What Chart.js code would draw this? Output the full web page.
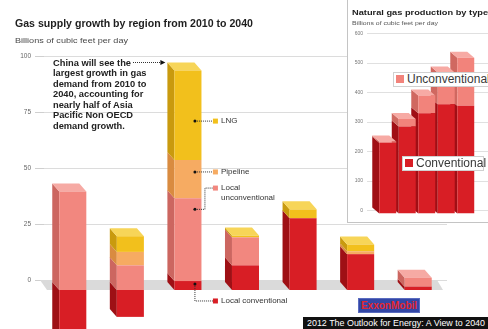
<!DOCTYPE html>
<html><head><meta charset="utf-8">
<script src="https://cdn.jsdelivr.net/npm/chart.js@4.4.1/dist/chart.umd.min.js"></script>
<style>
html,body{margin:0;padding:0;width:488px;height:329px;overflow:hidden;background:#fff;font-family:"Liberation Sans",Arial,sans-serif;}
#wrap{position:relative;width:488px;height:329px;overflow:hidden;}
.t{position:absolute;white-space:nowrap;transform-origin:0 50%;}
#main{position:absolute;left:0;top:0;}
#panel{position:absolute;left:347px;top:-1px;width:160px;height:222px;border:1px solid #c4c4c4;background:#fff;overflow:hidden;}
#inset{position:absolute;left:0;top:1px;}
.box{position:absolute;background:#fff;border:1px solid #d0d0d0;color:#3a3a3a;font-size:12px;line-height:13px;white-space:nowrap;}
.sq{display:inline-block;width:8px;height:8px;margin:0 3px 0 2px;vertical-align:0;}
</style></head>
<body><div id="wrap">
<canvas id="main" width="488" height="329"></canvas>

<div class="t fit" data-w="238" style="left:15px;top:18.2px;font-size:10.6px;line-height:10.6px;font-weight:bold;color:#1e1e1e">Gas supply growth by region from 2010 to 2040</div>
<div class="t fit" data-w="113" style="left:15px;top:37.2px;font-size:7.5px;line-height:7.5px;color:#4a4a4a">Billions of cubic feet per day</div>

<div class="t" style="left:53px;top:57.8px;font-size:9.3px;line-height:10.5px;font-weight:bold;color:#222;white-space:pre">China will see the
largest growth in gas
demand from 2010 to
2040, accounting for
nearly half of Asia
Pacific Non OECD
demand growth.</div>

<div class="t" style="left:221px;top:117px;font-size:8px;line-height:8px;color:#333">LNG</div>
<div class="t" style="left:221px;top:168px;font-size:8px;line-height:8px;color:#333">Pipeline</div>
<div class="t" style="left:221px;top:183px;font-size:8px;line-height:9.5px;color:#333;white-space:pre">Local
unconventional</div>
<div class="t" style="left:221px;top:297px;font-size:8px;line-height:8px;color:#333">Local conventional</div>

<div id="panel"><canvas id="inset" width="152" height="222"></canvas></div>
<div class="t fit" data-w="136" style="left:352px;top:8.5px;font-size:8px;line-height:8px;font-weight:bold;color:#1e1e1e">Natural gas production by type</div>
<div class="t fit" data-w="86" style="left:352px;top:19.5px;font-size:6px;line-height:6px;color:#555">Billions of cubic feet per day</div>

<div class="box" style="left:393px;top:72px;width:110px;height:13px;"><span class="sq" style="background:#f2837b"></span>Unconventional</div>
<div class="box" style="left:402px;top:156px;width:80px;height:13px;"><span class="sq" style="background:#d81e25"></span>Conventional</div>

<div class="t" style="left:358px;top:298px;width:62px;height:15px;line-height:15px;background:#3347a6;color:#e5262d;font-size:10px;font-weight:bold;text-align:center;box-shadow:inset 0 0 0 1px #5a6cc0">ExxonMobil</div>
<div class="t" style="left:303px;top:317px;width:185px;height:12px;background:#111;"></div>
<div class="t fit" data-w="178" style="left:307px;top:318px;height:11px;line-height:11px;color:#fff;font-size:9px;">2012 The Outlook for Energy: A View to 2040</div>
</div>

<script>
// ---- Main chart data: gas supply growth 2010-2040 (bcfd) ----
const categories = ['North America', 'Europe', 'China', 'Asia Pacific other', 'Middle East', 'Russia/Caspian', 'Africa'];
const localConventional   = [-25, -12, 4, 11, 32, 16, 1.5];
const localUnconventional = [44, 11, 37, 12.5, 0, 0, 4];
const pipeline            = [0, 6, 17, 0, 0, 1.3, 0];
const lng                 = [0, 7, 40, 0.8, 4, 3, 0];
const mainTicks = [0, 25, 50, 75, 100];

// ---- Inset: natural gas production by type (bcfd) ----
const insetYears = ['2000', '2010', '2020', '2030', '2040'];
const conventional   = [240, 295, 340, 370, 365];
const unconventional = [4, 25, 60, 108, 163];
const insetTicks = [0, 100, 200, 300, 400, 500, 600];

const COL = {
  conv:   {front: '#d81e25', side: '#9e1015', top: '#e8474c'},
  unconv: {front: '#f2877f', side: '#cc6660', top: '#f6aaa4'},
  pipe:   {front: '#f6ab62', side: '#d98b40', top: '#f9c48c'},
  lng:    {front: '#f2c01c', side: '#c99a0e', top: '#f7d558'}
};

function depthPlugin(dx, dy) {
  return {
    id: 'depth',
    beforeDatasetsDraw(chart) {
      const ctx = chart.ctx;
      const n = chart.data.labels.length;
      ctx.save();
      for (let i = n - 1; i >= 0; i--) {
        let top = null;
        chart.data.datasets.forEach((ds, di) => {
          const el = chart.getDatasetMeta(di).data[i];
          const v = ds.data[i];
          if (!el || !v) return;
          const p = el.getProps(['x', 'y', 'base', 'width'], true);
          const l = p.x - p.width / 2, r = p.x + p.width / 2;
          const t = Math.min(p.y, p.base), b = Math.max(p.y, p.base);
          ctx.fillStyle = ds.sideColor;
          ctx.beginPath();
          ctx.moveTo(l, t); ctx.lineTo(l + dx, t + dy); ctx.lineTo(l + dx, b + dy); ctx.lineTo(l, b);
          ctx.closePath(); ctx.fill();
          if (!top || t < top.t) top = {l, r, t, c: ds.topColor};
        });
        if (top) {
          ctx.fillStyle = top.c;
          ctx.beginPath();
          ctx.moveTo(top.l, top.t); ctx.lineTo(top.r, top.t);
          ctx.lineTo(top.r + dx, top.t + dy); ctx.lineTo(top.l + dx, top.t + dy);
          ctx.closePath(); ctx.fill();
        }
      }
      ctx.restore();
    }
  };
}

const floorPlugin = {
  id: 'floor',
  beforeDatasetsDraw(chart) {
    const ctx = chart.ctx, a = chart.chartArea;
    const yBack = chart.scales.y.getPixelForValue(0);
    const yFront = chart.scales.yb.getPixelForValue(0);
    ctx.save();
    ctx.fillStyle = '#dadada';
    ctx.beginPath();
    ctx.moveTo(a.left - 4, yBack); ctx.lineTo(a.right - 10, yBack);
    ctx.lineTo(a.right - 4, yFront); ctx.lineTo(a.left + 3, yFront);
    ctx.closePath(); ctx.fill();
    ctx.restore();
  }
};

const annotPlugin = {
  id: 'annot',
  afterDatasetsDraw(chart) {
    const ctx = chart.ctx;
    const i = categories.indexOf('China');
    const el = chart.getDatasetMeta(0).data[i];
    const yb = chart.scales.yb;
    const dotX = el.x + 7, sqX = el.x + 25, bendX = el.x + 17;
    const Y = v => yb.getPixelForValue(v);
    const leaders = [
      {pts: [[dotX, Y(75.4)], [sqX, Y(75.4)]], c: COL.lng.front},
      {pts: [[dotX, Y(52.7)], [sqX, Y(52.7)]], c: COL.pipe.front},
      {pts: [[dotX, Y(36)], [bendX, Y(36)], [bendX, Y(45.5)], [sqX, Y(45.5)]], c: COL.unconv.front},
      {pts: [[dotX, Y(2.7)], [dotX, Y(-4.9)], [sqX, Y(-4.9)]], c: COL.conv.front}
    ];
    ctx.save();
    leaders.forEach(L => {
      ctx.strokeStyle = '#333'; ctx.lineWidth = 1; ctx.setLineDash([1, 1]);
      ctx.beginPath();
      L.pts.forEach((p, k) => k ? ctx.lineTo(p[0], p[1]) : ctx.moveTo(p[0], p[1]));
      ctx.stroke();
      ctx.setLineDash([]);
      ctx.fillStyle = '#111';
      ctx.beginPath(); ctx.arc(L.pts[0][0], L.pts[0][1], 1.5, 0, Math.PI * 2); ctx.fill();
      const end = L.pts[L.pts.length - 1];
      ctx.fillStyle = L.c;
      ctx.fillRect(end[0], end[1] - 2.5, 5, 5);
    });
    // arrow from the China note to the China bar
    const tipX = el.x - el.width / 2 - 9, ay = 62.5;
    ctx.strokeStyle = '#333'; ctx.setLineDash([1, 1]);
    ctx.beginPath(); ctx.moveTo(133, ay); ctx.lineTo(tipX - 4, ay); ctx.stroke();
    ctx.setLineDash([]); ctx.fillStyle = '#111';
    ctx.beginPath(); ctx.moveTo(tipX, ay); ctx.lineTo(tipX - 5, ay - 2.5); ctx.lineTo(tipX - 5, ay + 2.5); ctx.closePath(); ctx.fill();
    ctx.restore();
  }
};

const FONT = 'Liberation Sans';
const noPad = s => { s.paddingTop = 0; s.paddingBottom = 0; };

new Chart(document.getElementById('main'), {
  type: 'bar',
  data: {
    labels: categories,
    datasets: [
      {label: 'Local conventional', data: localConventional, backgroundColor: COL.conv.front, sideColor: COL.conv.side, topColor: COL.conv.top, yAxisID: 'yb'},
      {label: 'Local unconventional', data: localUnconventional, backgroundColor: COL.unconv.front, sideColor: COL.unconv.side, topColor: COL.unconv.top, yAxisID: 'yb'},
      {label: 'Pipeline', data: pipeline, backgroundColor: COL.pipe.front, sideColor: COL.pipe.side, topColor: COL.pipe.top, yAxisID: 'yb'},
      {label: 'LNG', data: lng, backgroundColor: COL.lng.front, sideColor: COL.lng.side, topColor: COL.lng.top, yAxisID: 'yb'}
    ]
  },
  options: {
    responsive: false, animation: false,
    layout: {padding: {top: 56, right: 41, bottom: 0, left: 0}},
    plugins: {legend: {display: false}, tooltip: {enabled: false}},
    datasets: {bar: {barPercentage: 0.47, categoryPercentage: 1, borderWidth: 0}},
    scales: {
      x: {stacked: true, display: false},
      yb: {stacked: true, display: false, min: -17.41, max: 104.46, afterFit: noPad},
      y: {
        position: 'left', min: -21.875, max: 100,
        afterBuildTicks: s => { s.ticks = mainTicks.map(v => ({value: v})); },
        afterFit: s => { s.width = 44; noPad(s); },
        grid: {color: '#dcdcdc', tickLength: 9, tickColor: '#cfcfcf'},
        border: {display: false},
        ticks: {font: {size: 6.5, family: FONT}, color: '#666', padding: 4}
      }
    }
  },
  plugins: [floorPlugin, depthPlugin(-7, -8), annotPlugin]
});

new Chart(document.getElementById('inset'), {
  type: 'bar',
  data: {
    labels: [...insetYears, ''],
    datasets: [
      {label: 'Conventional', data: conventional, backgroundColor: '#d81e25', sideColor: '#a00f15', topColor: '#e3464b', yAxisID: 'yb'},
      {label: 'Unconventional', data: unconventional, backgroundColor: '#f2837b', sideColor: '#d06860', topColor: '#f7aaa4', yAxisID: 'yb'}
    ]
  },
  options: {
    responsive: false, animation: false,
    layout: {padding: {top: 32.5, right: 5, left: 0, bottom: 0}},
    plugins: {legend: {display: false}, tooltip: {enabled: false}},
    datasets: {bar: {barPercentage: 0.87, categoryPercentage: 1, borderWidth: 0}},
    scales: {
      x: {stacked: true, grid: {display: false}, border: {display: false},
          ticks: {font: {size: 5, family: FONT}, color: '#777', padding: 3, maxRotation: 0, autoSkip: false},
          afterFit: s => { s.height = 9.5; }},
      yb: {stacked: true, display: false, min: 0, max: 610, afterFit: noPad},
      y: {min: -10, max: 600,
          afterBuildTicks: s => { s.ticks = insetTicks.map(v => ({value: v})); },
          afterFit: s => { s.width = 30; noPad(s); },
          grid: {color: '#e0e0e0', tickLength: 11},
          border: {display: false},
          ticks: {font: {size: 5, family: FONT}, color: '#777', padding: 4}}
    }
  },
  plugins: [depthPlugin(-7, -6)]
});

document.querySelectorAll('.fit').forEach(el => {
  const w = parseFloat(el.dataset.w);
  const cur = el.getBoundingClientRect().width;
  if (cur > 0) el.style.transform = 'scaleX(' + (w / cur).toFixed(3) + ')';
});
</script>
</body></html>
